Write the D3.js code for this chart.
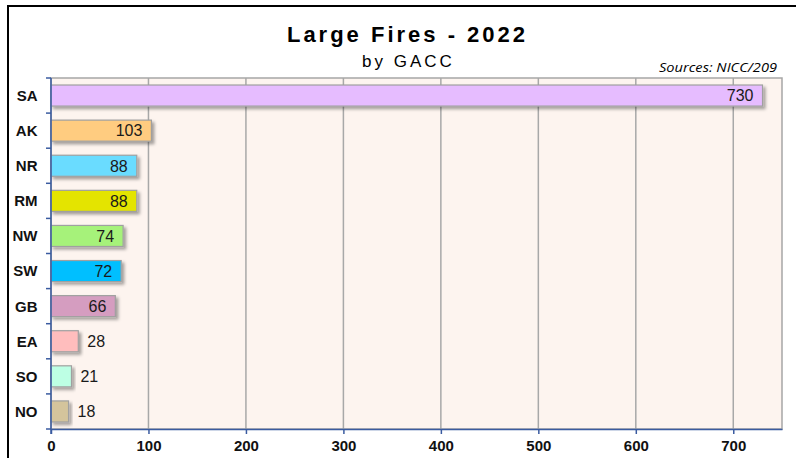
<!DOCTYPE html>
<html>
<head>
<meta charset="utf-8">
<script src="https://cdn.jsdelivr.net/npm/d3@7"></script>
<style>
  html, body { margin: 0; background: #fff; overflow: hidden; }
  svg { display: block; font-family: "Liberation Sans", Arial, sans-serif; }
</style>
</head>
<body>
<div id="chart"></div>
<script>
// data
var regions = ["SA", "AK", "NR", "RM", "NW", "SW", "GB", "EA", "SO", "NO"];
var fires = [730, 103, 88, 88, 74, 72, 66, 28, 21, 18];
var barColors = ["#E6BCFF", "#FFCC80", "#6ADCFF", "#E4E400", "#A6F27A", "#00BFFF", "#D59DC0", "#FFBDBD", "#BDFFE4", "#D4C49C"];
var xTicks = [0, 100, 200, 300, 400, 500, 600, 700];

var width = 796, height = 458;
var margin = {top: 78, right: 14, bottom: 29, left: 51};
var axisBlue = "#3A5BA0";

var svg = d3.select("#chart").append("svg")
    .attr("width", width)
    .attr("height", height);

// outer frame (only top and left show)
svg.append("rect")
    .attr("x", 8).attr("y", 6)
    .attr("width", 820).attr("height", 480)
    .style("fill", "none")
    .style("stroke", "#000")
    .style("stroke-width", 2);

var defs = svg.append("defs");
var shadow = defs.append("filter").attr("id", "shadow")
    .attr("x", "-10%").attr("y", "-30%").attr("width", "130%").attr("height", "180%");
shadow.append("feDropShadow")
    .attr("dx", 2.5).attr("dy", 2.5)
    .attr("stdDeviation", 1.5)
    .attr("flood-color", "#000")
    .attr("flood-opacity", 0.35);

var x = d3.scaleLinear()
    .domain([0, 750])
    .range([margin.left, width - margin.right]);

var y = d3.scaleBand()
    .domain(regions)
    .range([margin.top, height - margin.bottom])
    .paddingInner(0.4)
    .paddingOuter(0.2);

var plotTop = margin.top, plotBottom = height - margin.bottom;

// plot background
svg.append("rect")
    .attr("x", x(0)).attr("y", plotTop)
    .attr("width", x(750) - x(0)).attr("height", plotBottom - plotTop)
    .style("fill", "#FDF4EF")
    .style("stroke", "#A6A6A6")
    .style("stroke-width", 1.5);

// gridlines
svg.append("g").selectAll("line")
    .data(xTicks.filter(function(d) { return d > 0; }))
    .enter().append("line")
    .attr("x1", function(d) { return x(d); })
    .attr("x2", function(d) { return x(d); })
    .attr("y1", plotTop).attr("y2", plotBottom)
    .style("stroke", "#A8A8A8")
    .style("stroke-width", 1.5);

// bars
var bars = svg.append("g").selectAll("g.bar")
    .data(regions.map(function(r, i) { return {name: r, value: fires[i], color: barColors[i]}; }))
    .enter().append("g").attr("class", "bar");

bars.append("rect")
    .attr("x", x(0))
    .attr("y", function(d) { return y(d.name); })
    .attr("width", function(d) { return x(d.value) - x(0); })
    .attr("height", y.bandwidth())
    .style("fill", function(d) { return d.color; })
    .style("stroke", "#A0A0A0")
    .style("stroke-width", 1.2)
    .attr("filter", "url(#shadow)");

bars.append("text")
    .attr("x", function(d) { return d.value > 50 ? x(d.value) - 9 : x(d.value) + 9; })
    .attr("y", function(d) { return y(d.name) + y.bandwidth() / 2; })
    .attr("dy", "0.36em")
    .attr("text-anchor", function(d) { return d.value > 50 ? "end" : "start"; })
    .style("font-size", "16px")
    .style("fill", "#1a1a1a")
    .text(function(d) { return d.value; });

// axes
var xAxis = svg.append("g")
    .attr("transform", "translate(0," + plotBottom + ")")
    .call(d3.axisBottom(x).tickValues(xTicks).tickSize(5).tickSizeOuter(0));
xAxis.select(".domain").style("stroke", axisBlue).style("stroke-width", 1.5);
xAxis.selectAll(".tick line").style("stroke", axisBlue).style("stroke-width", 1.5);
xAxis.selectAll(".tick text")
    .attr("y", 11)
    .style("font-family", "'Liberation Sans', Arial, sans-serif")
    .style("font-size", "15px")
    .style("font-weight", "bold")
    .style("fill", "#111");

// y axis: line with ticks on the band boundaries
var yAxis = svg.append("g");
yAxis.append("line")
    .attr("x1", x(0)).attr("x2", x(0))
    .attr("y1", plotTop).attr("y2", plotBottom + 5)
    .style("stroke", axisBlue).style("stroke-width", 1.5);
var bounds = regions.map(function(r) { return y(r) - y.step() * 0.2; }).concat([plotBottom]);
yAxis.selectAll("line.tick")
    .data(bounds)
    .enter().append("line")
    .attr("class", "tick")
    .attr("x1", x(0) - 5).attr("x2", x(0))
    .attr("y1", function(d) { return d; })
    .attr("y2", function(d) { return d; })
    .style("stroke", axisBlue).style("stroke-width", 1.5);
yAxis.selectAll("text")
    .data(regions)
    .enter().append("text")
    .attr("x", 37.5)
    .attr("y", function(d) { return y(d) + y.bandwidth() / 2; })
    .attr("dy", "0.36em")
    .attr("text-anchor", "end")
    .style("font-size", "15px")
    .style("font-weight", "bold")
    .style("fill", "#111")
    .text(function(d) { return d; });

// titles
svg.append("text")
    .attr("x", 407.5).attr("y", 42)
    .attr("text-anchor", "middle")
    .style("font-size", "22px")
    .style("font-weight", "bold")
    .style("letter-spacing", "3px")
    .text("Large Fires - 2022");

svg.append("text")
    .attr("x", 408.5).attr("y", 66.5)
    .attr("text-anchor", "middle")
    .style("font-size", "17px")
    .style("letter-spacing", "3px")
    .text("by GACC");

svg.append("text")
    .attr("x", 659).attr("y", 71.5)
    .attr("textLength", 118)
    .attr("lengthAdjust", "spacingAndGlyphs")
    .style("font-family", "'Open Sans', sans-serif")
    .style("font-style", "italic")
    .style("font-size", "13px")
    .text("Sources: NICC/209");
</script>
</body>
</html>
